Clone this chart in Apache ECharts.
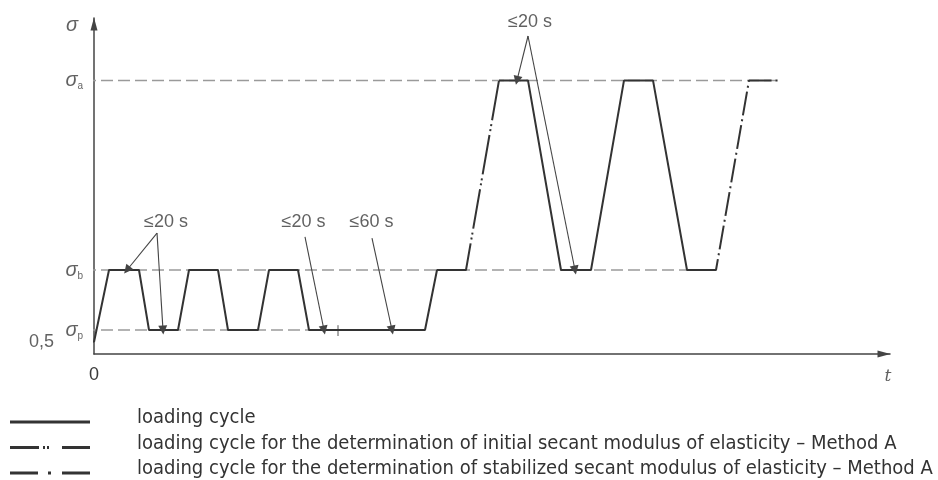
<!DOCTYPE html>
<html>
<head>
<meta charset="utf-8">
<script src="https://cdn.jsdelivr.net/npm/echarts@6/dist/echarts.min.js"></script>
<style>
  html, body { margin: 0; padding: 0; background: #ffffff; }
  #chart { width: 938px; height: 480px; }
</style>
</head>
<body>
<div id="chart"></div>
<script>
// Stress levels, in units of the lower stress σp
const levelNames = ['a', 'b', 'p'];
const levelValues = [11.4, 3.5, 1];
const levelLineEnds = [685, 622, 215];   // time at which each reference line stops
const preloadStress = 0.5;

// Loading history as [t, σ] pairs (t in arbitrary time units)
const loadingCycle = [
  [0, 0.5], [15, 3.5], [45, 3.5], [55, 1], [84, 1], [95, 3.5], [124, 3.5],
  [134, 1], [164, 1], [175, 3.5], [204, 3.5], [215, 1], [331, 1], [343, 3.5],
  [359, 3.5], [380, null],
  [405, 11.4], [434, 11.4], [467, 3.5], [497, 3.5], [530, 11.4], [559, 11.4],
  [593, 3.5], [609, 3.5]
];
const initialModulusCycle = [[359, 3.5], [372, 3.5], [405, 11.4]];
const stabilizedModulusCycle = [[609, 3.5], [622, 3.5], [655, 11.4], [685, 11.4]];

// Dwell-time notes and the arrows pointing from them
const noteTexts = ['≤20 s', '≤20 s', '≤60 s', '≤20 s'];
const notePositions = [[72, 5.5], [209.5, 5.5], [277.5, 5.5], [436, 13.85]];
const noteArrows = [
  [[63, 5.04], [33, 3.5]],
  [[63, 5.04], [69, 1]],
  [[211, 4.88], [230, 1]],
  [[278, 4.83], [298, 1]],
  [[434, 13.25], [423, 11.4]],
  [[434, 13.25], [481, 3.5]]
];
const dwellTick = [[244, 0.75], [244, 1.2]];

const legendNames = [
  'loading cycle',
  'loading cycle for the determination of initial secant modulus of elasticity – Method A',
  'loading cycle for the determination of stabilized secant modulus of elasticity – Method A'
];

const ink = '#333333';
const labelInk = '#3a3a3a';
const font = 'Liberation Sans';
const legendFont = "'Liberation Sans Narrow', 'Arial Narrow', 'DejaVu Sans Condensed', 'Roboto Condensed', 'Liberation Sans', sans-serif";

// Legend text is sized so the longest entry spans about 800 px
function fitLegendFontSize(text, family, target) {
  const ctx = document.createElement('canvas').getContext('2d');
  ctx.font = '20px ' + family;
  const w = ctx.measureText(text).width;
  return Math.min(20, Math.max(14, 20 * target / w));
}
const legendFontSize = fitLegendFontSize(legendNames[2], legendFont, 800);

const chart = echarts.init(document.getElementById('chart'), null, { renderer: 'canvas' });

const axisLine = {
  show: true,
  symbol: ['none', 'triangle'],
  symbolSize: [7, 13],
  symbolOffset: [0, -6],
  lineStyle: { color: '#444444', width: 1.5 }
};

const referenceSeries = levelValues.map((v, i) => ({
  type: 'line',
  data: [[-10, v], [levelLineEnds[i], v]],
  symbol: 'none',
  clip: false,
  silent: true,
  z: 1,
  lineStyle: { color: '#9a9a9a', width: 1.5, type: [12, 5] }
}));

const levelLabelData = levelValues.map((v, i) => ({
  value: [-10, v],
  label: {
    show: true,
    position: 'left',
    distance: 1,
    formatter: '{s|σ}{sub|' + levelNames[i] + '}',
    rich: {
      s: { fontFamily: font, fontStyle: 'italic', fontSize: 20, color: labelInk },
      sub: { fontFamily: font, fontSize: 10, color: labelInk, padding: [12, 0, 0, 0] }
    }
  }
}));

const textData = [
  ...levelLabelData,
  { value: [-22, 13.7], label: { show: true, position: 'inside', formatter: 'σ',
      fontFamily: font, fontStyle: 'italic', fontSize: 20, color: labelInk } },
  { value: [-40, preloadStress], label: { show: true, position: 'left', distance: 0, formatter: '0,5',
      fontFamily: font, fontSize: 18, color: labelInk } },
  { value: [794, -0.96], label: { show: true, position: 'inside', formatter: 't',
      fontFamily: 'DejaVu Serif', fontStyle: 'italic', fontSize: 17, color: labelInk } },
  ...noteTexts.map((t, i) => ({
    value: notePositions[i],
    label: { show: true, position: 'inside', formatter: t, fontFamily: font, fontSize: 18, color: labelInk }
  }))
];

const option = {
  animation: false,
  backgroundColor: '#ffffff',
  grid: { left: 94, right: 48, top: 18, bottom: 126, containLabel: false },
  xAxis: {
    type: 'value',
    min: 0,
    max: 796,
    interval: 796,
    axisLine: axisLine,
    axisTick: { show: false },
    splitLine: { show: false },
    axisLabel: {
      formatter: v => (v === 0 ? '0' : ''),
      margin: 12,
      fontFamily: font,
      fontSize: 18,
      color: labelInk,
      showMaxLabel: false
    }
  },
  yAxis: {
    type: 'value',
    min: 0,
    max: 14,
    axisLine: axisLine,
    axisTick: { show: false },
    splitLine: { show: false },
    axisLabel: { show: false }
  },
  legend: {
    orient: 'vertical',
    left: 10,
    top: 408,
    height: 100,
    padding: 0,
    itemWidth: 80,
    itemHeight: 3,
    itemGap: -2.5,
    selectedMode: false,
    formatter: name => '{t|' + name + '}',
    textStyle: {
      rich: {
        t: {
          fontFamily: legendFont,
          fontSize: legendFontSize,
          color: ink,
          lineHeight: 15,
          padding: [0, 0, 8, 42]
        }
      }
    },
    data: [
      { name: legendNames[0], icon: 'path://M0,0H80V3H0Z' },
      { name: legendNames[1], icon: 'path://M0,0H29V3H0Z M33,0H35V3H33Z M37,0H39V3H37Z M52,0H80V3H52Z' },
      { name: legendNames[2], icon: 'path://M0,0H28V3H0Z M38,0H41V3H38Z M52,0H80V3H52Z' }
    ]
  },
  series: [
    ...referenceSeries,
    {
      type: 'line',
      data: [[-37, preloadStress], [0, preloadStress]],
      symbol: 'none',
      clip: false,
      silent: true,
      z: 2,
      lineStyle: { color: '#444444', width: 1.5 }
    },
    {
      type: 'line',
      data: dwellTick,
      symbol: 'none',
      clip: false,
      silent: true,
      z: 2,
      lineStyle: { color: '#555555', width: 1 }
    },
    {
      name: legendNames[0],
      type: 'line',
      data: loadingCycle,
      symbol: 'none',
      clip: false,
      connectNulls: false,
      color: ink,
      z: 5,
      lineStyle: { color: ink, width: 2 }
    },
    {
      name: legendNames[1],
      type: 'line',
      data: initialModulusCycle,
      symbol: 'none',
      clip: false,
      color: ink,
      z: 5,
      lineStyle: { color: ink, width: 2, type: [40, 4, 2, 3, 2, 4] }
    },
    {
      name: legendNames[2],
      type: 'line',
      data: stabilizedModulusCycle,
      symbol: 'none',
      clip: false,
      color: ink,
      z: 5,
      lineStyle: { color: ink, width: 2, type: [24, 4, 2, 4] }
    },
    {
      type: 'lines',
      coordinateSystem: 'cartesian2d',
      data: noteArrows.map(c => ({ coords: c })),
      symbol: ['none', 'triangle'],
      symbolSize: [5, 9],
      silent: true,
      z: 6,
      lineStyle: { color: '#444444', width: 1.1, opacity: 1 }
    },
    {
      type: 'scatter',
      data: textData,
      symbolSize: 0,
      clip: false,
      silent: true,
      z: 7
    }
  ]
};

chart.setOption(option);
</script>
</body>
</html>
